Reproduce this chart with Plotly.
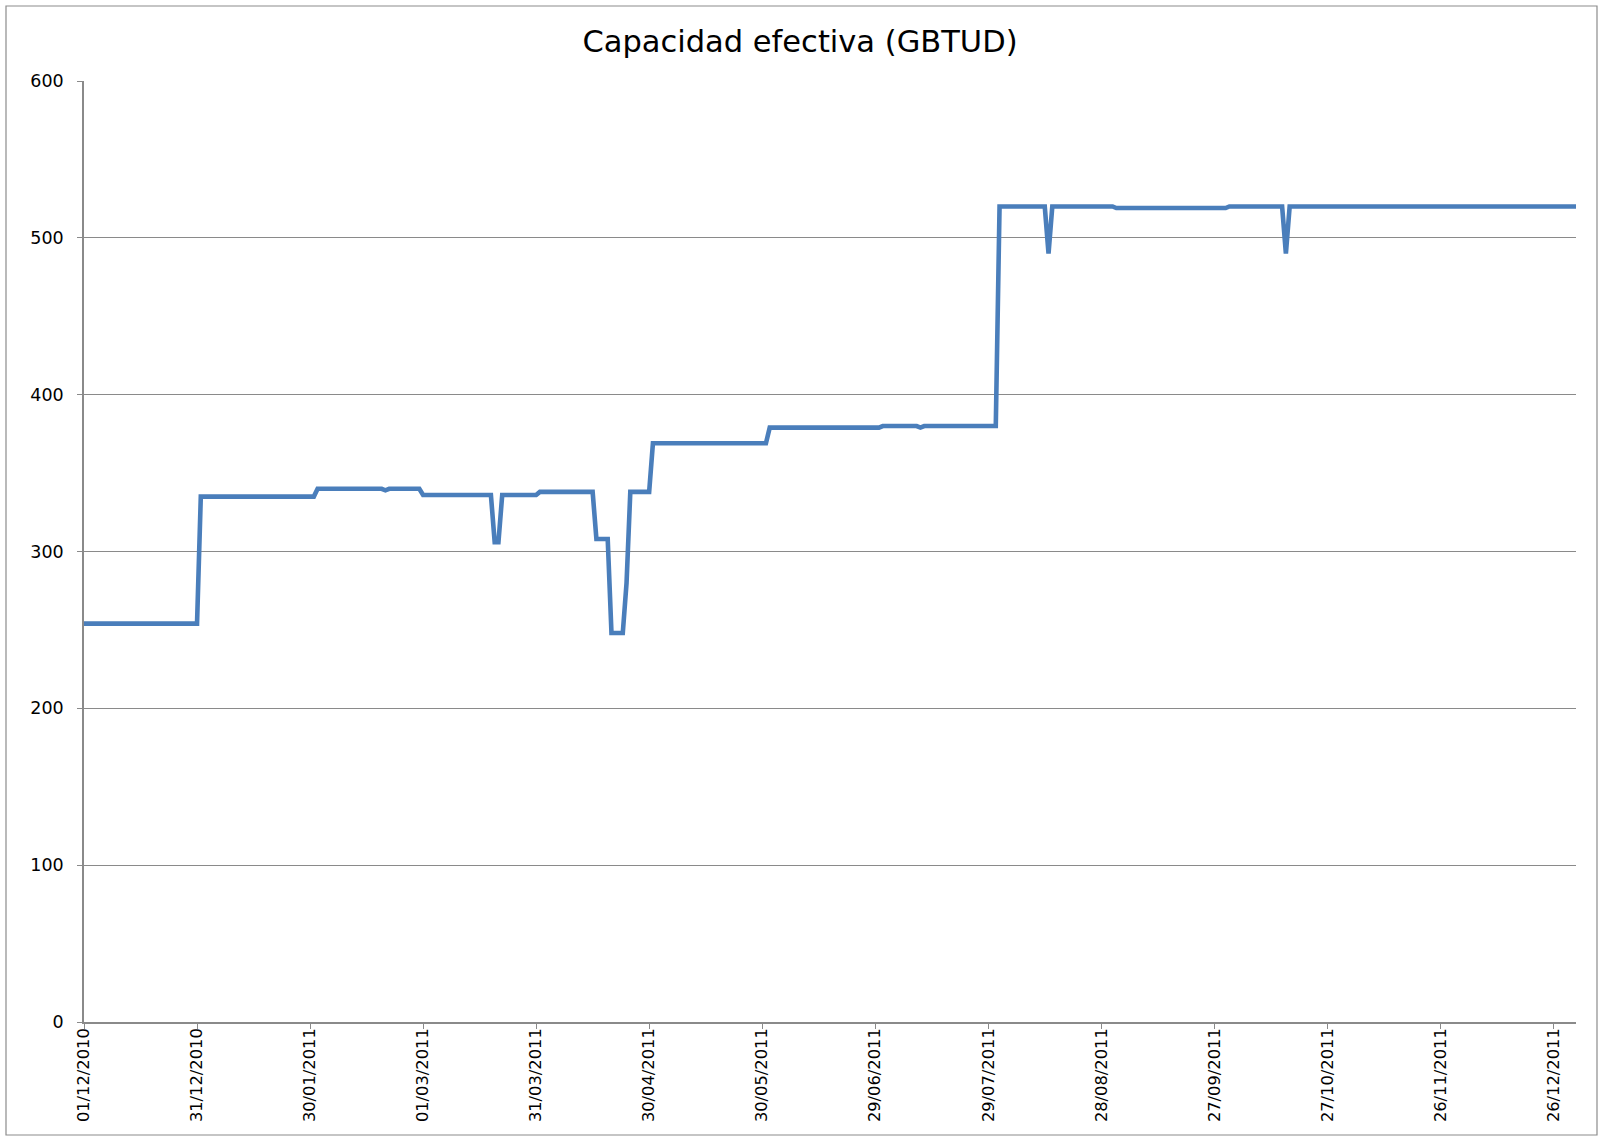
import plotly.graph_objects as go

# Breakpoints of the effective capacity series (GBTUD)
fechas = [
    "2010-12-01", "2010-12-31",
    "2011-01-01", "2011-01-31",
    "2011-02-01", "2011-02-18", "2011-02-19", "2011-02-20", "2011-02-28",
    "2011-03-01", "2011-03-19", "2011-03-20", "2011-03-21", "2011-03-22", "2011-03-31",
    "2011-04-01", "2011-04-15", "2011-04-16", "2011-04-19", "2011-04-20", "2011-04-23",
    "2011-04-24", "2011-04-25", "2011-04-30",
    "2011-05-01", "2011-05-31",
    "2011-06-01", "2011-06-30",
    "2011-07-01", "2011-07-10", "2011-07-11", "2011-07-12", "2011-07-31",
    "2011-08-01", "2011-08-13", "2011-08-14", "2011-08-15", "2011-08-31",
    "2011-09-01", "2011-09-30",
    "2011-10-01", "2011-10-15", "2011-10-16", "2011-10-17",
    "2012-01-01",
]
capacidad = [
    254, 254,
    335, 335,
    340, 340, 339, 340, 340,
    336, 336, 306, 306, 336, 336,
    338, 338, 308, 308, 248, 248,
    280, 338, 338,
    369, 369,
    379, 379,
    380, 380, 379, 380, 380,
    520, 520, 490, 520, 520,
    519, 519,
    520, 520, 490, 520,
    520,
]

titulo = "Capacidad efectiva (GBTUD)"

W, H = 1600, 1138
L, R, T, B = 84, 24, 81, 116
pw, ph = W - L - R, H - T - B

grid = "#8a8a8a"
font_family = "DejaVu Sans, Verdana, sans-serif"

fig = go.Figure()
fig.add_trace(go.Scatter(
    x=fechas, y=capacidad, mode="lines",
    line=dict(color="#4a7ebb", width=4.6),
    showlegend=False, hoverinfo="x+y",
))

# outer chart border
def px_x(p):
    return (p - L) / pw

def px_y(p):
    return (H - B - p) / ph

fig.add_shape(type="rect", xref="paper", yref="paper",
              x0=px_x(6), x1=px_x(1597), y0=px_y(1135), y1=px_y(6),
              line=dict(color="#8c8c8c", width=1.2), layer="below")

fig.update_layout(
    width=W, height=H,
    margin=dict(l=L, r=R, t=T, b=B),
    paper_bgcolor="white", plot_bgcolor="white",
    font=dict(family=font_family, color="black", size=16),
    title=dict(text=titulo, x=0.5, xanchor="center", xref="container",
               y=1 - 41 / H, yanchor="middle", yref="container",
               font=dict(size=30.5, family=font_family, color="black")),
)

fig.update_xaxes(
    type="date",
    range=["2010-12-01", "2012-01-01"],
    tick0="2010-12-01", dtick=30 * 86400000,
    tickformat="%d/%m/%Y", tickangle=-90,
    ticks="outside", ticklen=5, tickcolor=grid, tickwidth=1,
    showline=True, linecolor=grid, linewidth=1.5,
    showgrid=False, zeroline=False,
    tickfont=dict(size=16.3),
    ticklabelstandoff=-7,
)
fig.update_yaxes(
    range=[0, 600], dtick=100, tick0=0,
    ticks="outside", ticklen=5, tickcolor=grid, tickwidth=1,
    showline=True, linecolor=grid, linewidth=1.5,
    showgrid=True, gridcolor=grid, gridwidth=1,
    zeroline=False,
    tickfont=dict(size=17.5),
    ticklabelstandoff=10,
)

fig.write_html("out.html", config={"displayModeBar": False},
               post_script="document.body.style.margin='0';document.body.style.overflow='hidden';")
